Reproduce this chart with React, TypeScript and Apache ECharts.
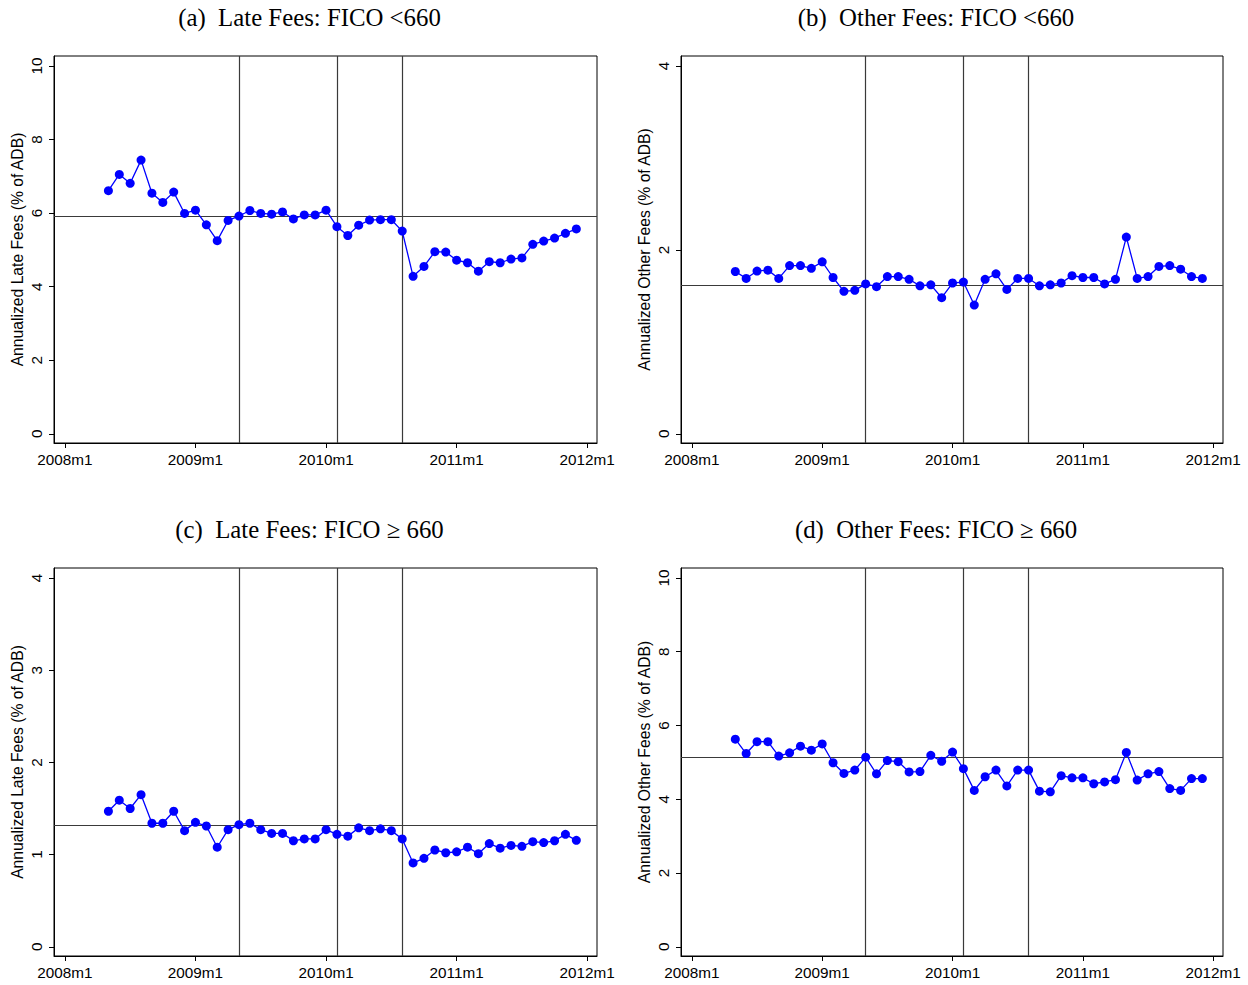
import React, { useEffect, useRef } from "react";
import * as echarts from "echarts";

const months = [
  "2008m5", "2008m6", "2008m7", "2008m8", "2008m9", "2008m10", "2008m11", "2008m12",
  "2009m1", "2009m2", "2009m3", "2009m4", "2009m5", "2009m6", "2009m7", "2009m8", "2009m9", "2009m10", "2009m11", "2009m12",
  "2010m1", "2010m2", "2010m3", "2010m4", "2010m5", "2010m6", "2010m7", "2010m8", "2010m9", "2010m10", "2010m11", "2010m12",
  "2011m1", "2011m2", "2011m3", "2011m4", "2011m5", "2011m6", "2011m7", "2011m8", "2011m9", "2011m10", "2011m11", "2011m12",
];

const xTickValues = [0, 12, 24, 36, 48];
const xTickLabels = ["2008m1", "2009m1", "2010m1", "2011m1", "2012m1"];
const eventMonths = ["2009m5", "2010m2", "2010m8"];

const lateFeesLow = [
  6.61, 7.05, 6.81, 7.44, 6.54, 6.29, 6.57, 5.99, 6.08, 5.68, 5.25, 5.8,
  5.92, 6.07, 5.99, 5.97, 6.03, 5.84, 5.95, 5.95, 6.08, 5.63, 5.39, 5.67,
  5.81, 5.82, 5.82, 5.51, 4.28, 4.55, 4.95, 4.94, 4.72, 4.65, 4.42, 4.68,
  4.65, 4.75, 4.78, 5.15, 5.24, 5.32, 5.45, 5.57,
];
const otherFeesLow = [
  1.765, 1.69, 1.77, 1.78, 1.69, 1.83, 1.83, 1.8, 1.87, 1.7, 1.55, 1.56,
  1.63, 1.6, 1.71, 1.71, 1.68, 1.61, 1.62, 1.48, 1.64, 1.65, 1.4, 1.68,
  1.74, 1.57, 1.69, 1.69, 1.61, 1.62, 1.64, 1.72, 1.7, 1.7, 1.63, 1.68,
  2.14, 1.69, 1.71, 1.82, 1.83, 1.79, 1.71, 1.69,
];
const lateFeesHigh = [
  1.47, 1.59, 1.5, 1.65, 1.34, 1.34, 1.47, 1.26, 1.35, 1.31, 1.08, 1.27,
  1.325, 1.34, 1.27, 1.23, 1.23, 1.15, 1.17, 1.17, 1.27, 1.22, 1.2, 1.29,
  1.26, 1.28, 1.26, 1.17, 0.91, 0.96, 1.05, 1.02, 1.03, 1.08, 1.01, 1.12,
  1.07, 1.1, 1.09, 1.14, 1.13, 1.15, 1.22, 1.155,
];
const otherFeesHigh = [
  5.63, 5.24, 5.56, 5.56, 5.17, 5.26, 5.44, 5.33, 5.5, 4.99, 4.7, 4.79,
  5.14, 4.69, 5.05, 5.02, 4.74, 4.75, 5.19, 5.03, 5.28, 4.83, 4.24, 4.61,
  4.79, 4.36, 4.79, 4.79, 4.22, 4.2, 4.64, 4.58, 4.58, 4.42, 4.47, 4.53,
  5.27, 4.52, 4.69, 4.75, 4.29, 4.24, 4.56, 4.56,
];

const meanLateLow = 5.92;
const meanOtherLow = 1.62;
const meanLateHigh = 1.325;
const meanOtherHigh = 5.13;

const titles = [
  "(a)  Late Fees: FICO <660",
  "(b)  Other Fees: FICO <660",
  "(c)  Late Fees: FICO \u2265 660",
  "(d)  Other Fees: FICO \u2265 660",
];
const yNames = [
  "Annualized Late Fees (% of ADB)",
  "Annualized Other Fees (% of ADB)",
  "Annualized Late Fees (% of ADB)",
  "Annualized Other Fees (% of ADB)",
];
const yTicksA = [0, 2, 4, 6, 8, 10];
const yTicksB = [0, 2, 4];
const yTicksC = [0, 1, 2, 3, 4];
const yTicksD = [0, 2, 4, 6, 8, 10];

function monthIndex(s: string): number {
  const [y, m] = s.split("m");
  return (Number(y) - 2008) * 12 + (Number(m) - 1);
}

const SANS = "Liberation Sans, Arial, Helvetica, sans-serif";
const SERIF = "Liberation Serif, Times New Roman, serif";

export default function App() {
  const ref = useRef<HTMLDivElement>(null);
  useEffect(() => {
    if (!ref.current) return;
    const chart = echarts.init(ref.current, undefined, { renderer: "svg" });

    const panels = [
      { left: 54, top: 56, width: 543, height: 387, vals: lateFeesLow, mean: meanLateLow, ticks: yTicksA, min: -0.25, max: 10.27, tx: 309.5, ty: 17 },
      { left: 681, top: 56, width: 542, height: 387, vals: otherFeesLow, mean: meanOtherLow, ticks: yTicksB, min: -0.1, max: 4.109, tx: 936, ty: 17 },
      { left: 54, top: 568, width: 543, height: 388, vals: lateFeesHigh, mean: meanLateHigh, ticks: yTicksC, min: -0.1, max: 4.109, tx: 309.5, ty: 529 },
      { left: 681, top: 568, width: 542, height: 388, vals: otherFeesHigh, mean: meanOtherHigh, ticks: yTicksD, min: -0.25, max: 10.27, tx: 936, ty: 529 },
    ];

    const grid = panels.map((p) => ({
      left: p.left,
      top: p.top,
      width: p.width,
      height: p.height,
      show: true,
      borderColor: "#000",
      borderWidth: 1,
      backgroundColor: "transparent",
    }));

    const xAxis = panels.map((p, i) => ({
      type: "value",
      gridIndex: i,
      min: -1,
      max: 48.9,
      axisLine: { show: true, onZero: false, lineStyle: { color: "#000", width: 1 } },
      axisTick: { show: true, customValues: xTickValues, length: 5, lineStyle: { color: "#000" } },
      axisLabel: {
        customValues: xTickValues,
        formatter: (v: number) => xTickLabels[xTickValues.indexOf(v)] ?? "",
        fontSize: 15.3,
        fontFamily: SANS,
        color: "#000",
        margin: 9,
      },
      splitLine: { show: false },
    }));

    const yAxis = panels.map((p, i) => ({
      type: "value",
      gridIndex: i,
      min: p.min,
      max: p.max,
      name: yNames[i],
      nameLocation: "middle",
      nameGap: 28.5,
      nameRotate: 90,
      nameTextStyle: { fontSize: 15.7, fontFamily: SANS, color: "#000" },
      axisLine: { show: true, onZero: false, lineStyle: { color: "#000", width: 1 } },
      axisTick: { show: true, customValues: p.ticks, length: 5, lineStyle: { color: "#000" } },
      axisLabel: {
        customValues: p.ticks,
        rotate: 90,
        fontSize: 15.3,
        fontFamily: SANS,
        color: "#000",
        margin: 10,
      },
      splitLine: { show: false },
    }));

    const series = panels.map((p, i) => ({
      type: "line",
      xAxisIndex: i,
      yAxisIndex: i,
      data: months.map((m, k) => [monthIndex(m), p.vals[k]]),
      symbol: "circle",
      symbolSize: 9,
      lineStyle: { color: "#0000ff", width: 1.3 },
      itemStyle: { color: "#0000ff" },
      silent: true,
      z: 3,
      markLine: {
        silent: true,
        symbol: ["none", "none"],
        label: { show: false },
        lineStyle: { color: "#3a3a3a", width: 1.2, type: "solid" },
        data: [
          ...eventMonths.map((m) => ({ xAxis: monthIndex(m) })),
          { yAxis: p.mean },
        ],
        z: 2,
      },
    }));

    const graphic = panels.map((p, i) => ({
      type: "text",
      x: p.tx,
      y: p.ty,
      style: {
        text: titles[i],
        fontSize: 24.8,
        fontFamily: SERIF,
        fill: "#000",
        align: "center",
        verticalAlign: "middle",
      },
    }));

    chart.setOption({
      animation: false,
      backgroundColor: "#fff",
      grid,
      xAxis,
      yAxis,
      series,
      graphic,
    } as any);

    return () => chart.dispose();
  }, []);

  return (
    <div
      ref={ref}
      style={{ position: "absolute", left: 0, top: 0, width: 1248, height: 985, background: "#fff" }}
    />
  );
}
